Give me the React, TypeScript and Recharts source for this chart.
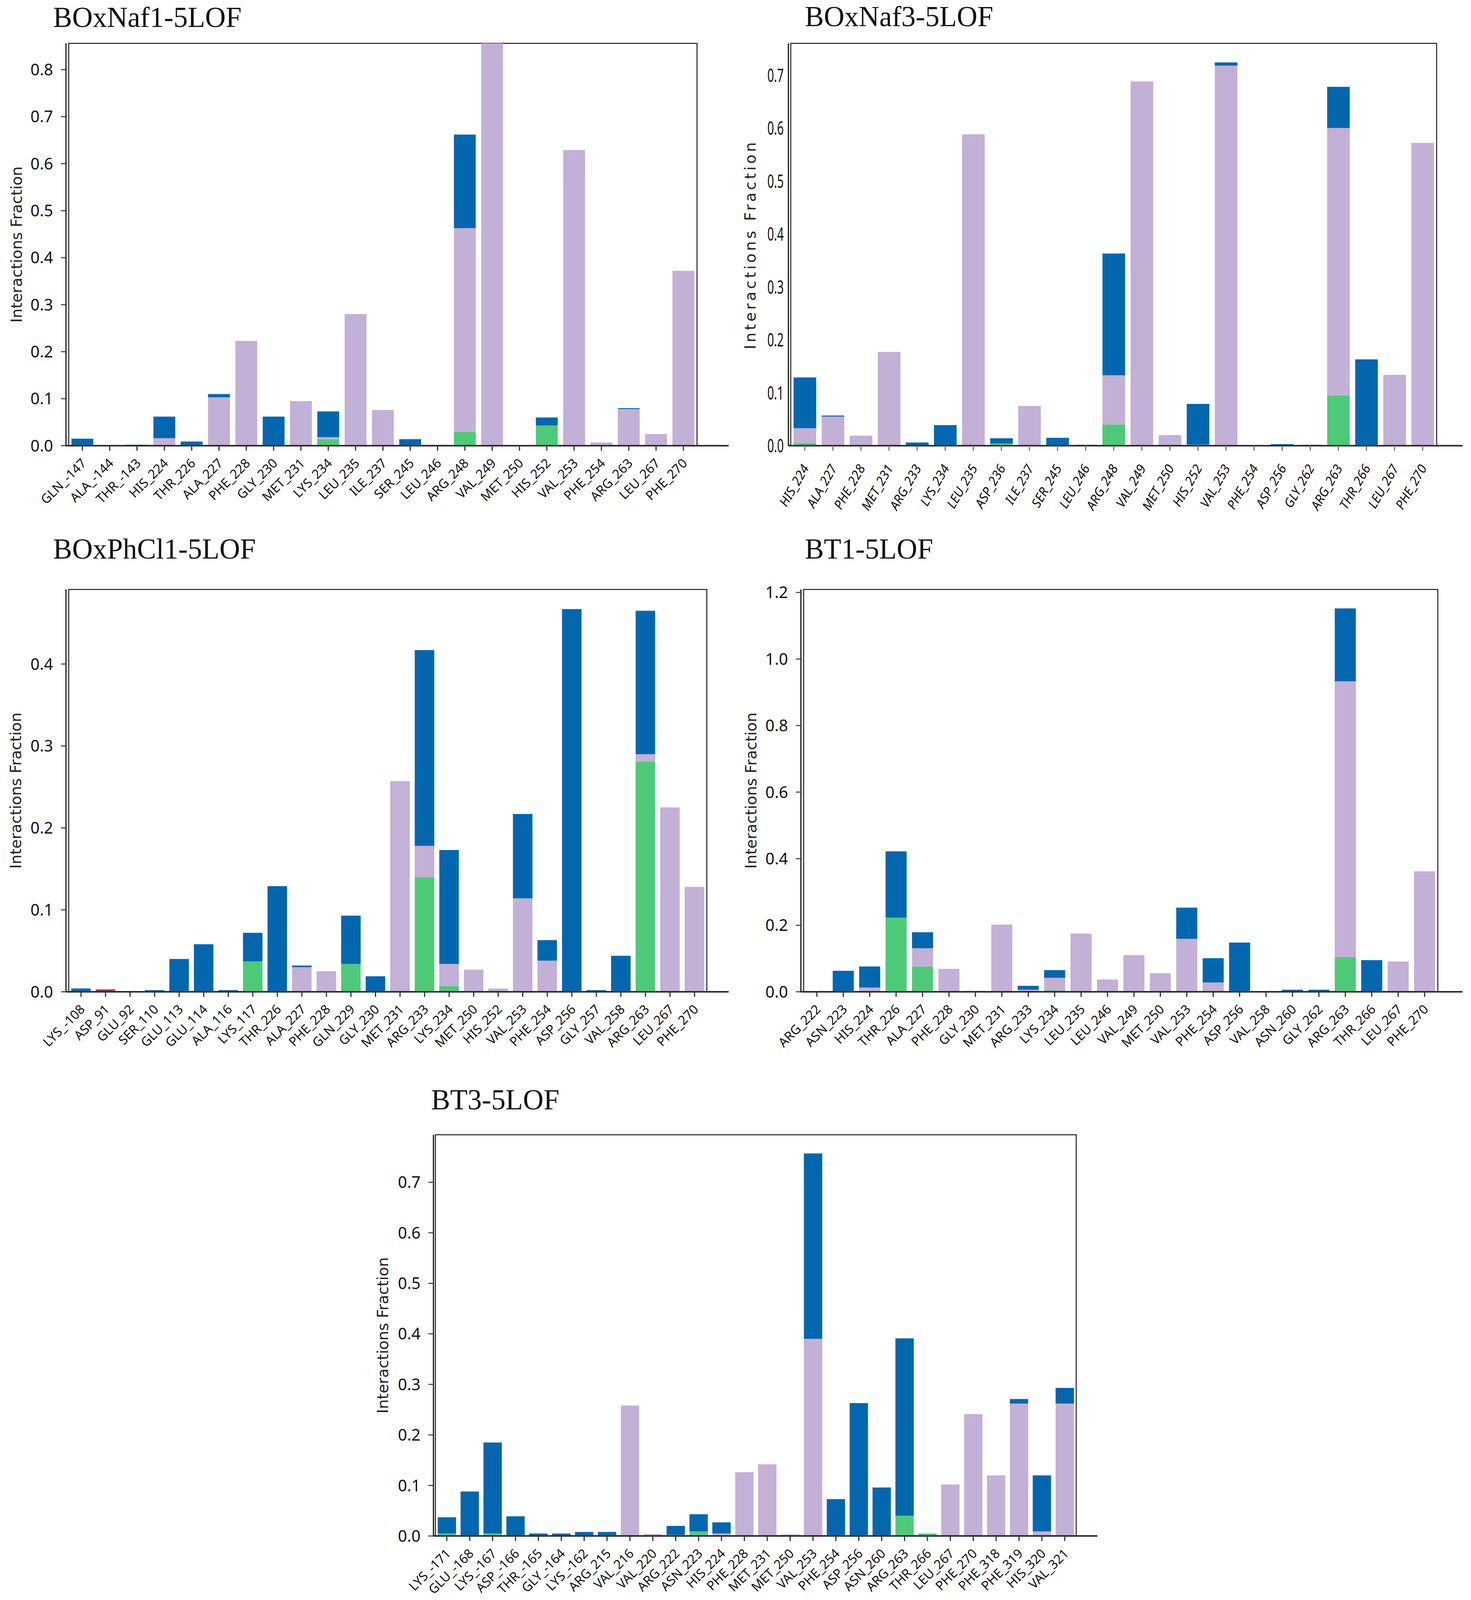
import React from 'react'
import { BarChart, Bar, XAxis, YAxis, ReferenceArea } from 'recharts'

// interaction colours (H-bonds, hydrophobic, ionic, water bridges)
const GREEN = '#4dca78'
const PURPLE = '#c3b0d6'
const MAGENTA = '#b1306f'
const BLUE = '#0367b0'

// ---- BOxNaf1-5LOF ----
const labels1 = ['GLN_-147', 'ALA_-144', 'THR_-143', 'HIS_224', 'THR_226', 'ALA_227', 'PHE_228', 'GLY_230', 'MET_231', 'LYS_234', 'LEU_235', 'ILE_237', 'SER_245', 'LEU_246', 'ARG_248', 'VAL_249', 'MET_250', 'HIS_252', 'VAL_253', 'PHE_254', 'ARG_263', 'LEU_267', 'PHE_270']
const hbond1 = [0, 0, 0, 0, 0, 0, 0, 0, 0, 0.014, 0, 0, 0, 0, 0.029, 0, 0, 0.043, 0, 0, 0, 0, 0]
const hydro1 = [0, 0, 0, 0.016, 0, 0.103, 0.223, 0, 0.095, 0.004, 0.28, 0.076, 0, 0.002, 0.434, 0.86, 0, 0, 0.629, 0.007, 0.078, 0.025, 0.372]
const ionic1 = [0, 0, 0, 0, 0, 0, 0, 0, 0, 0, 0, 0, 0, 0, 0, 0, 0, 0, 0, 0, 0, 0, 0]
const water1 = [0.015, 0, 0.002, 0.046, 0.009, 0.007, 0, 0.062, 0, 0.055, 0, 0, 0.014, 0, 0.199, 0, 0.001, 0.017, 0, 0, 0.002, 0, 0]
const ticks1 = [0, 0.1, 0.2, 0.3, 0.4, 0.5, 0.6, 0.7, 0.8]

// ---- BOxNaf3-5LOF ----
const labels2 = ['HIS_224', 'ALA_227', 'PHE_228', 'MET_231', 'ARG_233', 'LYS_234', 'LEU_235', 'ASP_236', 'ILE_237', 'SER_245', 'LEU_246', 'ARG_248', 'VAL_249', 'MET_250', 'HIS_252', 'VAL_253', 'PHE_254', 'ASP_256', 'GLY_262', 'ARG_263', 'THR_266', 'LEU_267', 'PHE_270']
const hbond2 = [0.005, 0, 0, 0, 0, 0, 0, 0.004, 0, 0, 0, 0.04, 0, 0, 0, 0, 0, 0, 0, 0.095, 0, 0, 0]
const hydro2 = [0.028, 0.055, 0.019, 0.177, 0, 0, 0.588, 0, 0.075, 0, 0.002, 0.093, 0.688, 0.02, 0.002, 0.718, 0.001, 0, 0.002, 0.505, 0, 0.134, 0.572]
const ionic2 = [0, 0, 0, 0, 0, 0, 0, 0, 0, 0, 0, 0, 0, 0, 0, 0, 0, 0, 0, 0, 0, 0, 0]
const water2 = [0.096, 0.002, 0, 0, 0.006, 0.039, 0, 0.01, 0, 0.015, 0, 0.23, 0, 0, 0.077, 0.006, 0, 0.003, 0, 0.078, 0.163, 0, 0]
const ticks2 = [0, 0.1, 0.2, 0.3, 0.4, 0.5, 0.6, 0.7]

// ---- BOxPhCl1-5LOF ----
const labels3 = ['LYS_-108', 'ASP_91', 'GLU_92', 'SER_110', 'GLU_113', 'GLU_114', 'ALA_116', 'LYS_117', 'THR_226', 'ALA_227', 'PHE_228', 'GLN_229', 'GLY_230', 'MET_231', 'ARG_233', 'LYS_234', 'MET_250', 'HIS_252', 'VAL_253', 'PHE_254', 'ASP_256', 'GLY_257', 'VAL_258', 'ARG_263', 'LEU_267', 'PHE_270']
const hbond3 = [0, 0, 0, 0, 0, 0, 0, 0.037, 0.001, 0, 0, 0.034, 0, 0, 0.14, 0.007, 0, 0, 0, 0, 0, 0, 0, 0.281, 0, 0]
const hydro3 = [0, 0, 0, 0, 0, 0, 0, 0, 0, 0.03, 0.025, 0, 0, 0.257, 0.038, 0.027, 0.027, 0.004, 0.114, 0.038, 0, 0, 0, 0.009, 0.225, 0.128]
const ionic3 = [0, 0.003, 0, 0, 0, 0, 0, 0, 0, 0, 0, 0, 0, 0, 0, 0, 0, 0, 0, 0, 0, 0, 0, 0, 0, 0]
const water3 = [0.004, 0, 0.0005, 0.002, 0.04, 0.058, 0.002, 0.035, 0.128, 0.002, 0, 0.059, 0.019, 0, 0.239, 0.139, 0, 0, 0.103, 0.025, 0.467, 0.002, 0.044, 0.175, 0, 0]
const ticks3 = [0, 0.1, 0.2, 0.3, 0.4]

// ---- BT1-5LOF ----
const labels4 = ['ARG_222', 'ASN_223', 'HIS_224', 'THR_226', 'ALA_227', 'PHE_228', 'GLY_230', 'MET_231', 'ARG_233', 'LYS_234', 'LEU_235', 'LEU_246', 'VAL_249', 'MET_250', 'VAL_253', 'PHE_254', 'ASP_256', 'VAL_258', 'ASN_260', 'GLY_262', 'ARG_263', 'THR_266', 'LEU_267', 'PHE_270']
const hbond4 = [0, 0, 0, 0.223, 0.075, 0, 0, 0, 0, 0.005, 0, 0, 0, 0, 0, 0, 0, 0, 0, 0, 0.105, 0, 0, 0]
const hydro4 = [0, 0, 0.013, 0, 0.056, 0.069, 0.003, 0.202, 0.006, 0.037, 0.175, 0.037, 0.11, 0.056, 0.159, 0.028, 0, 0, 0, 0, 0.828, 0, 0.091, 0.362]
const ionic4 = [0, 0, 0, 0, 0, 0, 0, 0, 0, 0, 0, 0, 0, 0, 0, 0, 0, 0, 0, 0, 0, 0, 0, 0]
const water4 = [0, 0.063, 0.063, 0.199, 0.048, 0, 0, 0, 0.012, 0.023, 0, 0, 0, 0, 0.094, 0.073, 0.148, 0, 0.006, 0.006, 0.219, 0.095, 0, 0]
const ticks4 = [0, 0.2, 0.4, 0.6, 0.8, 1.0, 1.2]

// ---- BT3-5LOF ----
const labels5 = ['LYS_-171', 'GLU_-168', 'LYS_-167', 'ASP_-166', 'THR_-165', 'GLY_-164', 'LYS_-162', 'ARG_215', 'VAL_216', 'VAL_220', 'ARG_222', 'ASN_223', 'HIS_224', 'PHE_228', 'MET_231', 'MET_250', 'VAL_253', 'PHE_254', 'ASP_256', 'ASN_260', 'ARG_263', 'THR_266', 'LEU_267', 'PHE_270', 'PHE_318', 'PHE_319', 'HIS_320', 'VAL_321']
const hbond5 = [0.005, 0, 0.005, 0, 0, 0, 0, 0, 0, 0, 0.002, 0.009, 0, 0, 0, 0, 0, 0, 0, 0, 0.04, 0.005, 0, 0, 0, 0, 0, 0]
const hydro5 = [0, 0, 0, 0, 0, 0, 0, 0, 0.258, 0.004, 0, 0, 0.005, 0.126, 0.142, 0.003, 0.39, 0, 0, 0, 0, 0, 0.102, 0.241, 0.12, 0.262, 0.009, 0.262]
const ionic5 = [0, 0, 0, 0, 0, 0, 0, 0, 0, 0, 0, 0, 0, 0, 0, 0, 0, 0, 0, 0, 0, 0, 0, 0, 0, 0, 0, 0]
const water5 = [0.032, 0.088, 0.18, 0.039, 0.005, 0.005, 0.008, 0.008, 0, 0, 0.018, 0.034, 0.022, 0, 0, 0, 0.367, 0.073, 0.263, 0.096, 0.351, 0, 0, 0, 0, 0.009, 0.111, 0.031]
const ticks5 = [0, 0.1, 0.2, 0.3, 0.4, 0.5, 0.6, 0.7]

const PAGE_W = 3767
const PAGE_H = 4275
// the photographed viewport can be a little shorter than the window; squeeze the layout (not the text) to fit
const VIEW_H = typeof window !== 'undefined' && window.innerHeight > 0 ? window.innerHeight : PAGE_H
const K = VIEW_H >= 3600 && VIEW_H < PAGE_H ? VIEW_H / PAGE_H : 1

const AX = 200 // room for the y axis inside each chart
const MT = 40 // top margin so the highest tick label is not clipped

function rows(labels: string[], hb: number[], hy: number[], io: number[], wb: number[]) {
  return labels.map((name, i) => ({ name, hbond: hb[i], hydro: hy[i], ionic: io[i], water: wb[i] }))
}

const panels = [
  { title: 'BOxNaf1-5LOF', titleX: 136, titleBase: 72, data: rows(labels1, hbond1, hydro1, ionic1, water1), ticks: ticks1, top: 0.856, x0: 169, x1: 1866, y0: 116, y1: 1191, padL: 7, padR: 81, labelCx: 42, angle: 45, xh: 250 },
  { title: 'BOxNaf3-5LOF', titleX: 2061, titleBase: 70, data: rows(labels2, hbond2, hydro2, ionic2, water2), ticks: ticks2, top: 0.76, x0: 2019, x1: 3745, y0: 116, y1: 1191, padL: 6, padR: 66, labelCx: 1921, angle: 60, italic: true, narrow: true, xh: 250 },
  { title: 'BOxPhCl1-5LOF', titleX: 136, titleBase: 1492, data: rows(labels3, hbond3, hydro3, ionic3, water3), ticks: ticks3, top: 0.491, x0: 169, x1: 1866, y0: 1575, y1: 2650, padL: 7, padR: 56, labelCx: 40, angle: 45, xh: 250 },
  { title: 'BT1-5LOF', titleX: 2061, titleBase: 1492, data: rows(labels4, hbond4, hydro4, ionic4, water4), ticks: ticks4, top: 1.209, x0: 2051, x1: 3745, y0: 1575, y1: 2650, padL: 7, padR: 63, labelCx: 1923, angle: 45, xh: 250 },
  { title: 'BT3-5LOF', titleX: 1104, titleBase: 2964, data: rows(labels5, hbond5, hydro5, ionic5, water5), ticks: ticks5, top: 0.794, x0: 1110, x1: 2810, y0: 3032, y1: 4104, padL: 5, padR: 54, labelCx: 980, angle: 45, xh: 165 },
]

function SlantTick(props: any) {
  const { x, y, payload, angle, italic } = props
  const ex = x + 12
  const ey = y + (angle === 60 ? 44 : 34)
  return (
    <text
      x={ex}
      y={ey}
      transform={`rotate(${-angle}, ${ex}, ${ey})`}
      textAnchor="end"
      fontSize={33}
      fontStyle={italic ? 'italic' : 'normal'}
      fontFamily="'Noto Sans', 'Open Sans', sans-serif"
      fill="#111"
    >
      {payload.value}
    </text>
  )
}

function ValueTick(props: any) {
  const { x, y, payload, narrow } = props
  const txt = Number(payload.value).toFixed(1)
  if (narrow) {
    return (
      <text
        x={x}
        y={y}
        dy="0.36em"
        textAnchor="end"
        fontSize={48}
        fontFamily="'Noto Sans', sans-serif"
        fill="#111"
        transform={`translate(${x},0) scale(0.62,1) translate(${-x},0)`}
      >
        {txt}
      </text>
    )
  }
  return (
    <text x={x} y={y} dy="0.36em" textAnchor="end" fontSize={41} fontFamily="'Noto Sans', sans-serif" fill="#111">
      {txt}
    </text>
  )
}

function Panel({ p }: { p: any }) {
  const y0 = p.y0 * K
  const y1 = p.y1 * K
  const plotW = p.x1 - p.x0
  const plotH = y1 - y0
  const width = plotW + AX + 20
  const height = plotH + MT + p.xh
  const labelX = AX - (p.x0 - p.labelCx) + 14
  const labelY = MT + plotH / 2
  return (
    <>
      <div
        style={{
          position: 'absolute',
          left: p.titleX,
          top: p.titleBase * K - 61,
          fontFamily: "'Liberation Serif', 'DejaVu Serif', serif",
          fontSize: 73,
          lineHeight: 1,
          color: '#111',
          whiteSpace: 'nowrap',
        }}
      >
        {p.title}
      </div>
      <div style={{ position: 'absolute', left: p.x0 - AX, top: y0 - MT }}>
        <BarChart width={width} height={height} data={p.data} margin={{ top: MT, right: 20, bottom: 0, left: 0 }}>
          <XAxis
            dataKey="name"
            interval={0}
            height={p.xh}
            padding={{ left: p.padL, right: p.padR }}
            axisLine={{ stroke: '#2b2b2b', strokeWidth: 4 }}
            tickLine={{ stroke: p.narrow ? '#777' : '#333', strokeWidth: 3 }}
            tickSize={13}
            tickMargin={0}
            tick={<SlantTick angle={p.angle} italic={p.italic} />}
          />
          <YAxis
            width={AX}
            domain={[0, p.top]}
            ticks={p.ticks}
            allowDataOverflow
            axisLine={{ stroke: '#111', strokeWidth: 3 }}
            tickLine={p.narrow ? false : { stroke: '#333', strokeWidth: 2.5 }}
            tickSize={p.narrow ? 0 : 13}
            tickMargin={p.narrow ? 12 : 20}
            tick={<ValueTick narrow={p.narrow} />}
            label={() => (
              <text
                x={labelX}
                y={labelY}
                transform={`rotate(-90, ${labelX}, ${labelY})`}
                textAnchor="middle"
                fontSize={39}
                letterSpacing={p.narrow ? 6.5 : 0}
                fontFamily="'DejaVu Sans', sans-serif"
                fill="#222"
              >
                Interactions Fraction
              </text>
            )}
          />
          <Bar dataKey="hbond" stackId="s" fill={GREEN} isAnimationActive={false} />
          <Bar dataKey="hydro" stackId="s" fill={PURPLE} isAnimationActive={false} />
          <Bar dataKey="ionic" stackId="s" fill={MAGENTA} isAnimationActive={false} />
          <Bar dataKey="water" stackId="s" fill={BLUE} isAnimationActive={false} />
          {/* matplotlib-style box round the plot area */}
          <ReferenceArea y1={0} y2={p.top} fill="none" stroke="#1a1a1a" strokeWidth={2.5} ifOverflow="visible" />
        </BarChart>
      </div>
    </>
  )
}

export default function App() {
  return (
    <div style={{ position: 'absolute', left: 0, top: 0, width: PAGE_W, height: PAGE_H * K, background: '#fff', overflow: 'hidden' }}>
      <style>{'svg.recharts-surface { overflow: visible; }'}</style>
      {panels.map((p) => (
        <Panel key={p.title} p={p} />
      ))}
    </div>
  )
}
